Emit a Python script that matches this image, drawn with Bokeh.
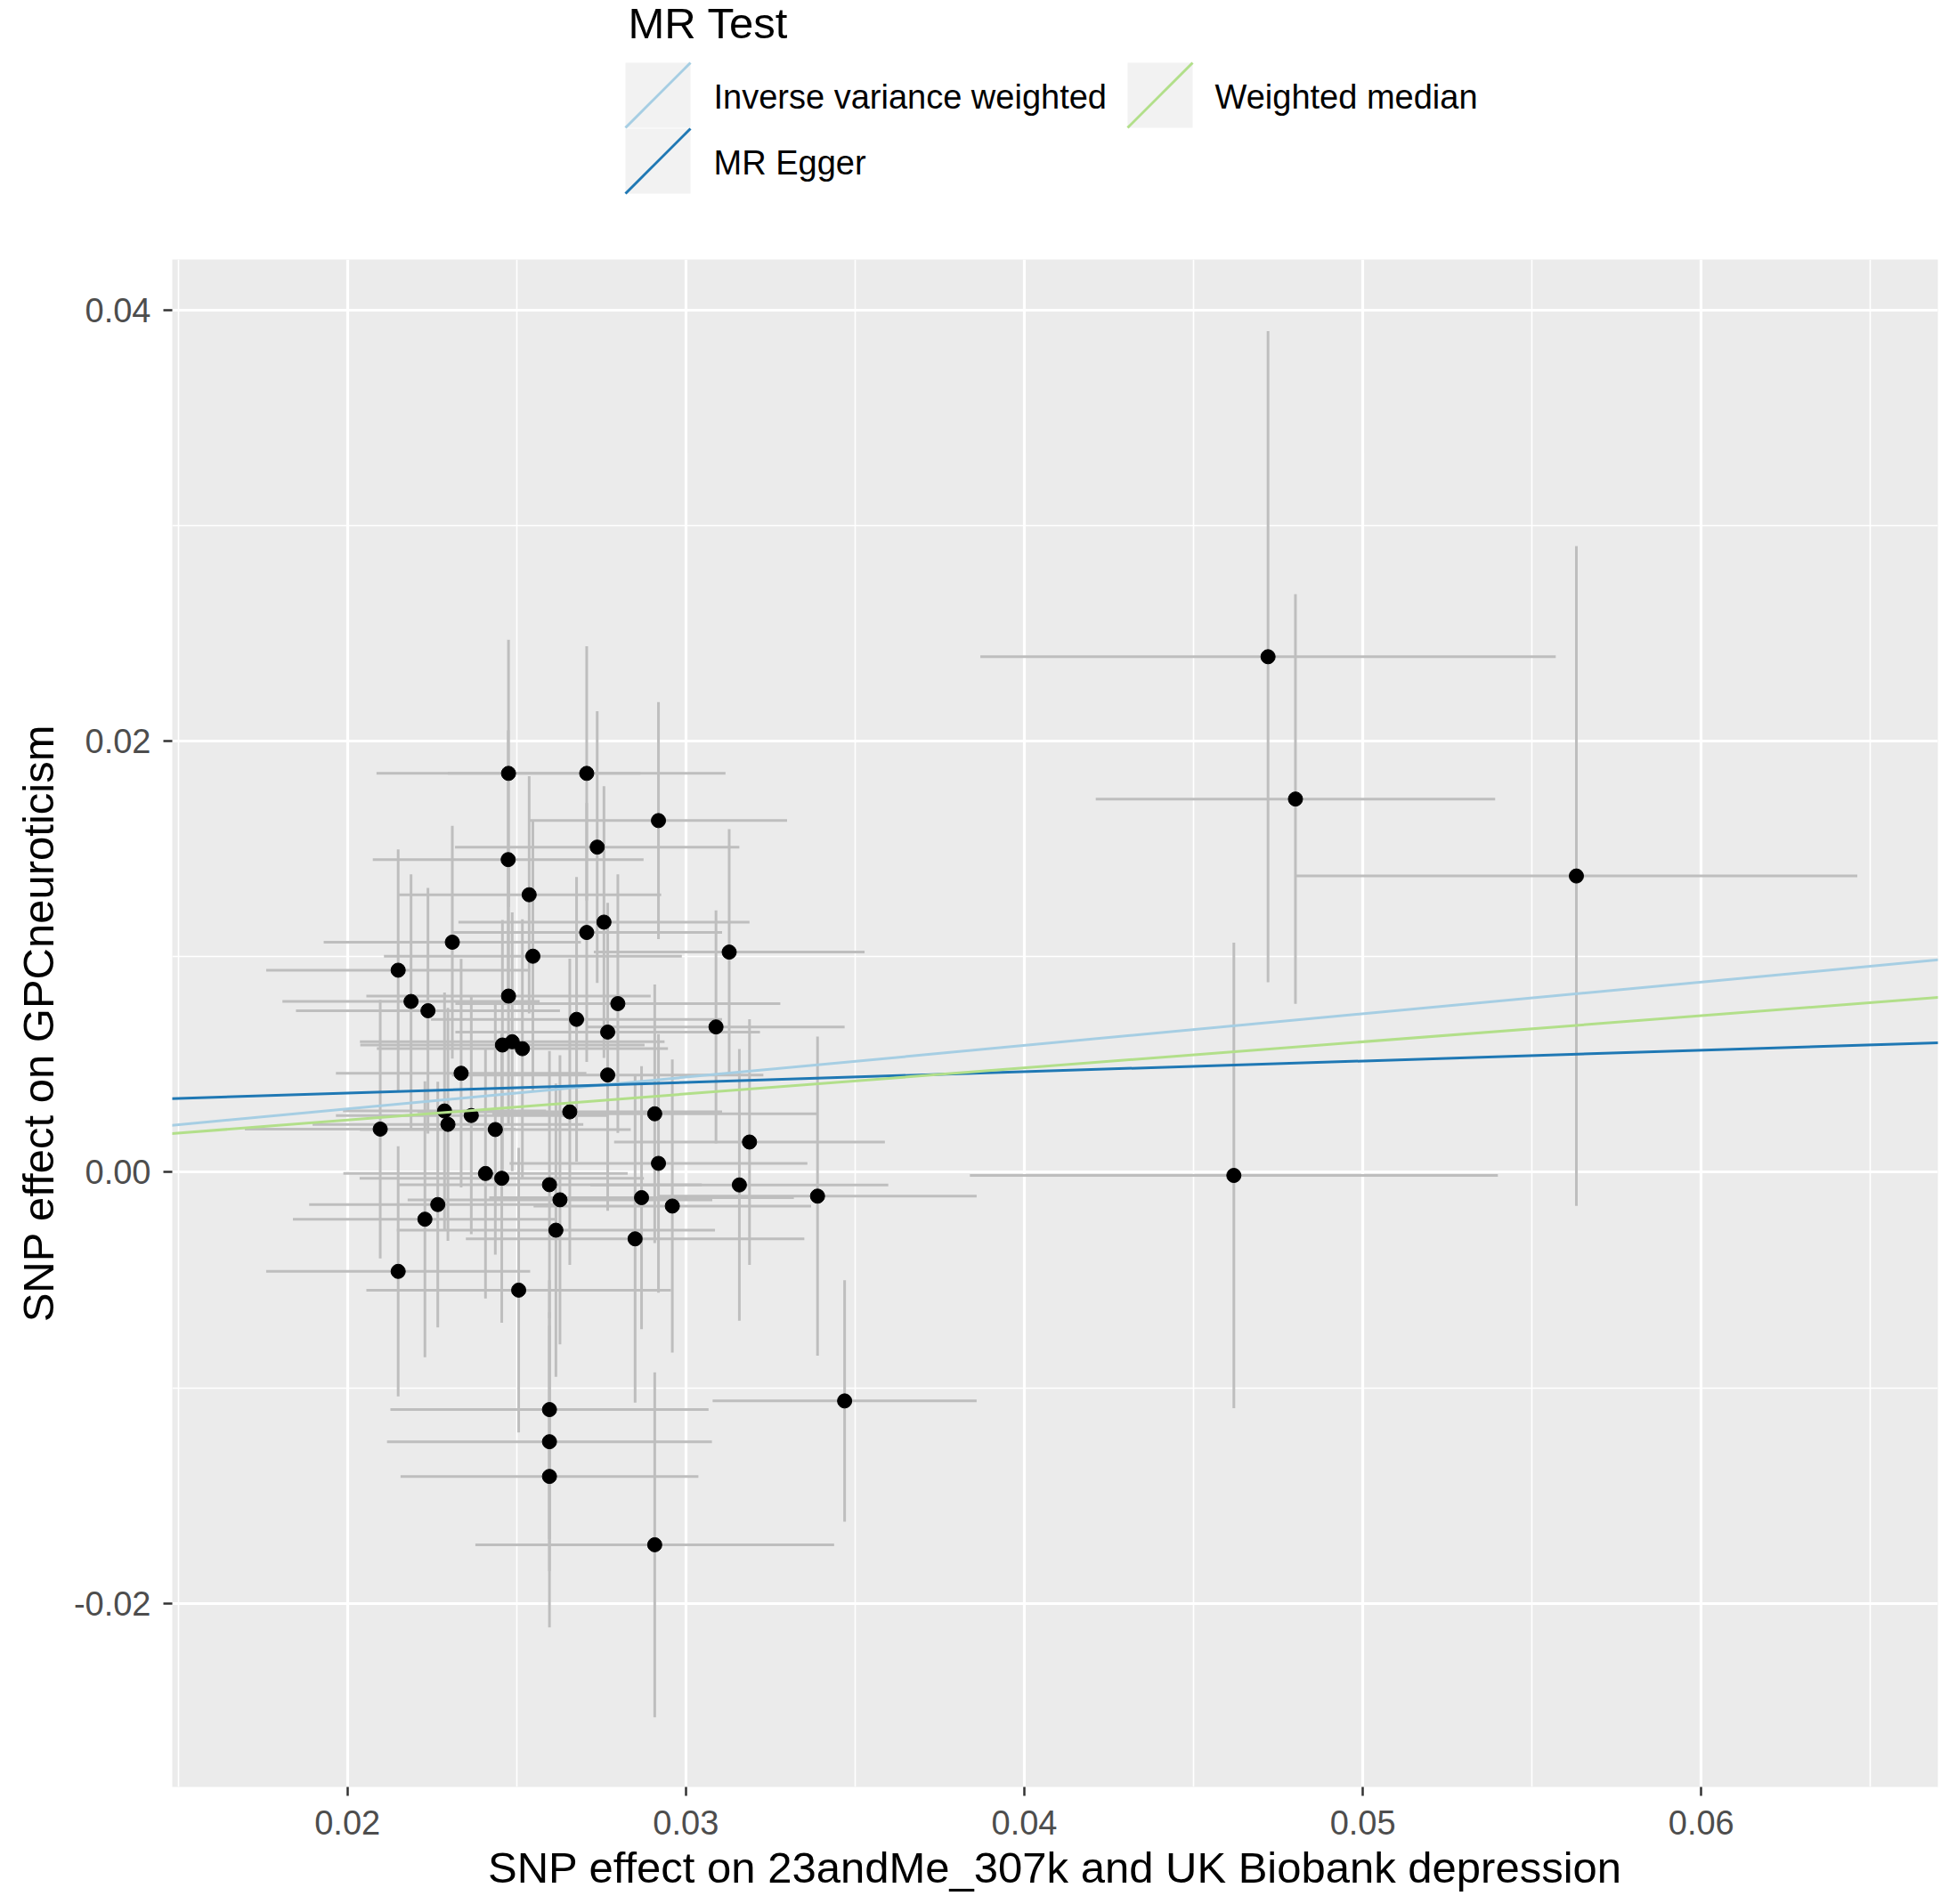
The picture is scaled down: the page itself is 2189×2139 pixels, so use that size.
from bokeh.plotting import figure
from bokeh.layouts import column
from bokeh.models import Range1d, FixedTicker, Slope, ColumnDataSource
from bokeh.core.properties import value
from bokeh.embed import file_html
from bokeh.resources import INLINE

# ---------------- data ----------------
snp_exposure = [0.02097, 0.02150, 0.02150, 0.02188, 0.02229, 0.02238, 0.02267, 0.02287, 0.02297, 0.02310,
                0.02336, 0.02366, 0.02408, 0.02437, 0.02456, 0.02458, 0.02476, 0.02475, 0.02476, 0.02487,
                0.02506, 0.02517, 0.02537, 0.02548, 0.02597, 0.02597, 0.02597, 0.02597, 0.02616, 0.02628,
                0.02657, 0.02677, 0.02707, 0.02707, 0.02738, 0.02758, 0.02769, 0.02769, 0.02799, 0.02850,
                0.02869, 0.02908, 0.02919, 0.02919, 0.02908, 0.02960, 0.03089, 0.03128, 0.03158, 0.03188,
                0.03389, 0.03469, 0.04619, 0.04720, 0.04801, 0.05631]
snp_outcome = [0.00200, 0.00937, -0.00460, 0.00792, -0.00218, 0.00749, -0.00150, 0.00284, 0.00222, 0.01067,
               0.00459, 0.00263, -0.00006, 0.00198, -0.00028, 0.00590, 0.01850, 0.01450, 0.00817, 0.00605,
               -0.00547, 0.00573, 0.01287, 0.01002, -0.00058, -0.01101, -0.01250, -0.01411, -0.00269, -0.00128,
               0.00280, 0.00709, 0.01850, 0.01112, 0.01508, 0.01160, 0.00650, 0.00451, 0.00782, -0.00309,
               -0.00118, 0.00271, 0.01631, 0.00041, -0.01728, -0.00157, 0.00674, 0.01021, -0.00059, 0.00140,
               -0.00111, -0.01061, -0.00015, 0.02391, 0.01731, 0.01374]
exposure_ci = [0.0040, 0.0039, 0.0039, 0.0038, 0.0039, 0.0039, 0.0038, 0.0030, 0.0040, 0.0038,
               0.0037, 0.0040, 0.0042, 0.0040, 0.0042, 0.0042, 0.0039, 0.0040, 0.0042, 0.0045,
               0.0045, 0.0043, 0.0039, 0.0044, 0.0045, 0.0047, 0.0048, 0.0044, 0.0047, 0.0045,
               0.0045, 0.0043, 0.0041, 0.0040, 0.0042, 0.0043, 0.0045, 0.0046, 0.0048, 0.0050,
               0.0045, 0.0048, 0.0038, 0.0044, 0.0053, 0.0041, 0.0038, 0.0040, 0.0044, 0.0040,
               0.0047, 0.0039, 0.0078, 0.0085, 0.0059, 0.0083]
outcome_ci = [0.0060, 0.0056, 0.0058, 0.0059, 0.0064, 0.0057, 0.0057, 0.0055, 0.0054, 0.0054,
              0.0053, 0.0055, 0.0058, 0.0058, 0.0067, 0.0058, 0.0062, 0.0060, 0.0060, 0.0060,
              0.0066, 0.0060, 0.0055, 0.0063, 0.0062, 0.0060, 0.0060, 0.0070, 0.0068, 0.0067,
              0.0071, 0.0066, 0.0059, 0.0060, 0.0063, 0.0063, 0.0060, 0.0063, 0.0060, 0.0076,
              0.0061, 0.0060, 0.0055, 0.0060, 0.0080, 0.0068, 0.0054, 0.0057, 0.0063, 0.0057,
              0.0074, 0.0056, 0.0108, 0.0151, 0.0095, 0.0153]

methods = ["Inverse variance weighted", "MR Egger", "Weighted median"]
method_slope = [0.147, 0.0496, 0.121]
method_intercept = [0.0, 0.00268, 0.0]
method_color = ["#A6CEE3", "#1F78B4", "#B2DF8A"]

x_ticks = [0.02, 0.03, 0.04, 0.05, 0.06]
x_tick_labels = ["0.02", "0.03", "0.04", "0.05", "0.06"]
x_minor = [0.015, 0.025, 0.035, 0.045, 0.055, 0.065]
y_ticks = [-0.02, 0.0, 0.02, 0.04]
y_tick_labels = ["-0.02", "0.00", "0.02", "0.04"]
y_minor = [-0.01, 0.01, 0.03]

legend_title = "MR Test"
x_title = "SNP effect on 23andMe_307k and UK Biobank depression"
y_title = "SNP effect on GPCneuroticism"

FONT = "Liberation Sans"
W = 2189
H = 2139
LEG_H = 232
MAIN_H = H - LEG_H
BL, BR = 193, 13          # left / right borders shared by both figures

# ---------------- main plot ----------------
p = figure(width=W, height=MAIN_H, output_backend="svg", toolbar_location=None,
           x_range=Range1d(0.014826, 0.06699), y_range=Range1d(-0.028514, 0.042337),
           min_border_left=BL, min_border_right=BR, min_border_top=59, min_border_bottom=132)
p.background_fill_color = "#EBEBEB"
p.border_fill_color = "white"
p.outline_line_color = None

xt = FixedTicker(ticks=x_ticks, minor_ticks=x_minor)
yt = FixedTicker(ticks=y_ticks, minor_ticks=y_minor)
p.xaxis.ticker = xt
p.yaxis.ticker = yt
p.xgrid.ticker = xt
p.ygrid.ticker = yt
p.xaxis.major_label_overrides = {t: l for t, l in zip(x_ticks, x_tick_labels)}
p.yaxis.major_label_overrides = {t: l for t, l in zip(y_ticks, y_tick_labels)}

for g in (p.xgrid, p.ygrid):
    g.grid_line_color = "white"
    g.grid_line_width = 3.2
    g.minor_grid_line_color = "white"
    g.minor_grid_line_width = 1.6

for ax in (p.xaxis, p.yaxis):
    ax.axis_line_color = None
    ax.major_tick_line_color = "#333333"
    ax.major_tick_line_width = 2.5
    ax.major_tick_in = 0
    ax.major_tick_out = 10
    ax.minor_tick_line_color = None
    ax.major_label_text_font = FONT
    ax.major_label_text_font_size = "38px"
    ax.major_label_text_color = "#4D4D4D"
    ax.axis_label_text_font = FONT
    ax.axis_label_text_font_size = "49px"
    ax.axis_label_text_font_style = "normal"
    ax.axis_label_text_color = "black"

p.xaxis.axis_label = x_title
p.yaxis.axis_label = y_title
p.xaxis.major_label_standoff = 16
p.xaxis.axis_label_standoff = 7
p.yaxis.major_label_standoff = 14
p.yaxis.axis_label_standoff = 10

src = ColumnDataSource(dict(
    x=snp_exposure, y=snp_outcome,
    x0=[a - b for a, b in zip(snp_exposure, exposure_ci)],
    x1=[a + b for a, b in zip(snp_exposure, exposure_ci)],
    y0=[a - b for a, b in zip(snp_outcome, outcome_ci)],
    y1=[a + b for a, b in zip(snp_outcome, outcome_ci)],
))
p.segment(x0="x", x1="x", y0="y0", y1="y1", source=src, line_color="#BEBEBE", line_width=3)
p.segment(x0="x0", x1="x1", y0="y", y1="y", source=src, line_color="#BEBEBE", line_width=3)
p.scatter(x="x", y="y", source=src, size=16, fill_color="black", line_color="black")

for s, b, c in zip(method_slope, method_intercept, method_color):
    p.add_layout(Slope(gradient=s, y_intercept=b, line_color=c, line_width=3))

# ---------------- legend (drawn in page pixel units) ----------------
lg = figure(width=W, height=LEG_H, output_backend="svg", toolbar_location=None,
            x_range=Range1d(BL, W - BR), y_range=Range1d(LEG_H, 0),
            x_axis_location=None, y_axis_location=None,
            min_border_left=BL, min_border_right=BR, min_border_top=0, min_border_bottom=0)
lg.grid.visible = False
lg.outline_line_color = None
lg.background_fill_color = "white"
lg.border_fill_color = "white"

key_left = [702, 702, 1266]
key_top = [70, 144, 70]
key_size = 73
lab_x = [801, 801, 1364]

lg.quad(left=key_left, right=[k + key_size for k in key_left],
        top=key_top, bottom=[k + key_size for k in key_top],
        fill_color="#F2F2F2", line_color=None)
lg.segment(x0=key_left, y0=[k + key_size for k in key_top],
           x1=[k + key_size for k in key_left], y1=key_top,
           line_color=method_color, line_width=3)
lg.text(x=lab_x, y=[k + key_size / 2 + 1.5 for k in key_top], text=methods,
        text_font=value(FONT), text_font_size=value("38px"), text_color="black",
        text_baseline="middle", text_align="left")
lg.text(x=[705], y=[25], text=[legend_title],
        text_font=value(FONT), text_font_size=value("49px"), text_color="black",
        text_baseline="middle", text_align="left")

layout = column(lg, p, spacing=0)
open("out.html", "w").write(file_html(layout, INLINE))
